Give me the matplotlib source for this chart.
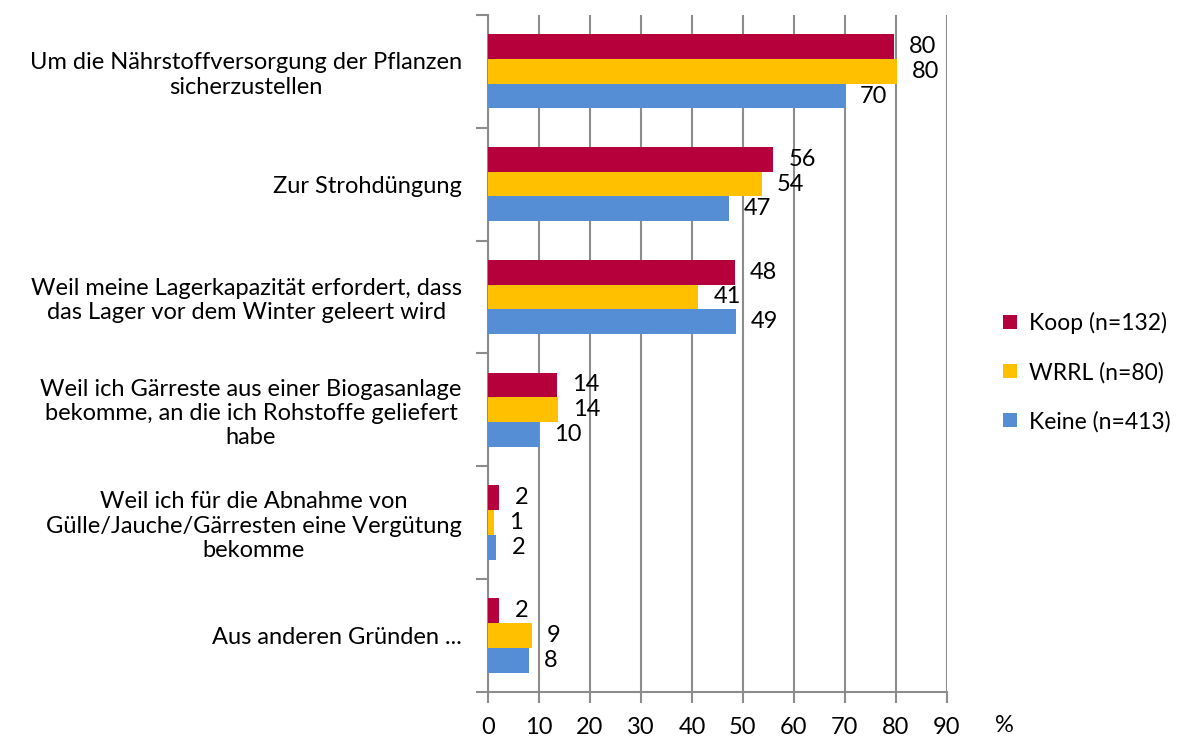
import numpy as np
import matplotlib
matplotlib.use("Agg")
import matplotlib.pyplot as plt

plt.rcParams['font.family'] = ['Lato', 'DejaVu Sans']

categories = [
    "Um die Nährstoffversorgung der Pflanzen\nsicherzustellen",
    "Zur Strohdüngung",
    "Weil meine Lagerkapazität erfordert, dass\ndas Lager vor dem Winter geleert wird",
    "Weil ich Gärreste aus einer Biogasanlage\nbekomme, an die ich Rohstoffe geliefert\nhabe",
    "Weil ich für die Abnahme von\nGülle/Jauche/Gärresten eine Vergütung\nbekomme",
    "Aus anderen Gründen ...",
]
series_names = ["Koop (n=132)", "WRRL (n=80)", "Keine (n=413)"]
koop = [79.6, 55.9, 48.4, 13.5, 2.2, 2.2]
wrrl = [80.2, 53.7, 41.2, 13.7, 1.2, 8.6]
keine = [70.0, 47.2, 48.6, 10.0, 1.6, 8.0]
colors = ["#B5003B", "#FFC000", "#558ED5"]

fig = plt.figure(figsize=(11.79, 7.40), dpi=100)
ax = fig.add_axes([0.414, 0.065, 0.389, 0.915])

y = np.arange(len(categories))
h = 0.22
for k, (vals, name, c) in enumerate(zip([koop, wrrl, keine], series_names, colors)):
    pos = y + (k - 1) * h
    ax.barh(pos, vals, height=h, color=c, label=name, zorder=3)
    for p, v in zip(pos, vals):
        ax.annotate(f"{v:.0f}", (v, p), xytext=(11, 0), textcoords="offset points",
                    va="center", ha="left", fontsize=17, color="black", zorder=4)

ax.set_xlim(0, 90)
ax.set_ylim(len(categories) - 0.5, -0.5)
ax.set_xticks(np.arange(0, 91, 10))
ax.tick_params(axis="x", labelsize=17, length=8, width=1.5, color="#8c8c8c", pad=10)
ax.xaxis.grid(True, color="#8c8c8c", linewidth=1.5, zorder=0)

ax.set_yticks(y)
ax.set_yticklabels(categories, fontsize=17, multialignment="center")
ax.tick_params(axis="y", length=0, pad=19)
ax.set_yticks(np.arange(-0.5, len(categories)), minor=True)
ax.tick_params(axis="y", which="minor", length=9, width=1.5, color="#8c8c8c")

for s in ["top", "right"]:
    ax.spines[s].set_visible(False)
for s in ["left", "bottom"]:
    ax.spines[s].set_color("#8c8c8c")
    ax.spines[s].set_linewidth(1.5)

fig.text(0.852, 0.02, "%", fontsize=17, ha="center", va="center")

ax.legend(loc="center left", bbox_to_anchor=(0.851, 0.497), bbox_transform=fig.transFigure,
          frameon=False, fontsize=16.5, handlelength=0.6, handleheight=0.6,
          handletextpad=0.5, labelspacing=1.2, borderpad=0, borderaxespad=0)

fig.savefig("out.png", dpi=100)
